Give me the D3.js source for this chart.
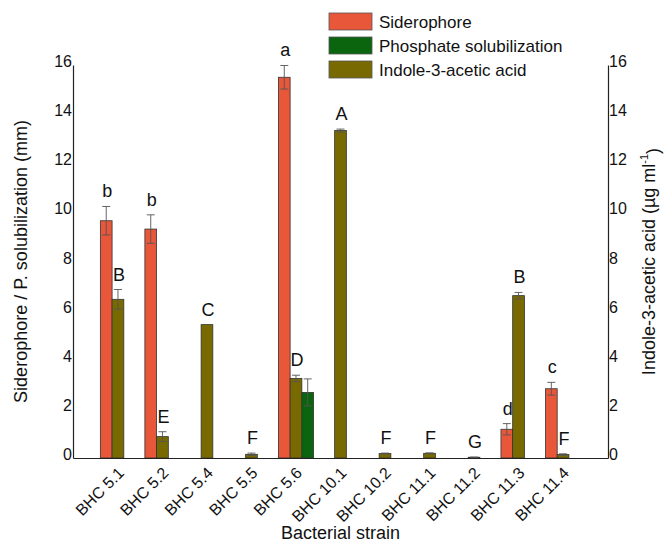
<!DOCTYPE html>
<html>
<head>
<meta charset="utf-8">
<script src="https://cdn.jsdelivr.net/npm/d3@7"></script>
<style>
  body { margin: 0; background: #fff; }
  text { font-family: Arial, "Liberation Sans", sans-serif; fill: #111; }
</style>
</head>
<body>
<div id="chart"></div>
<script>
var strains = ["BHC 5.1", "BHC 5.2", "BHC 5.4", "BHC 5.5", "BHC 5.6", "BHC 10.1", "BHC 10.2", "BHC 11.1", "BHC 11.2", "BHC 11.3", "BHC 11.4"];

var sidero = [9.66, 9.32, 0, 0, 15.5, 0, 0, 0, 0, 1.17, 2.82];
var sideroErr = [0.58, 0.58, 0, 0, 0.48, 0, 0, 0, 0, 0.23, 0.26];
var sideroLetters = ["b", "b", "", "", "a", "", "", "", "", "d", "c"];

var iaa = [6.46, 0.87, 5.43, 0.15, 3.24, 13.33, 0.18, 0.19, 0.03, 6.61, 0.14];
var iaaErr = [0.4, 0.2, 0, 0.05, 0.13, 0.06, 0.02, 0.02, 0.01, 0.13, 0.03];
var iaaLetters = ["B", "E", "C", "F", "D", "A", "F", "F", "G", "B", "F"];

var phos = [0, 0, 0, 0, 2.67, 0, 0, 0, 0, 0, 0];
var phosErr = [0, 0, 0, 0, 0.55, 0, 0, 0, 0, 0, 0];

var seriesNames = ["Siderophore", "Phosphate solubilization", "Indole-3-acetic acid"];
var seriesColors = ["#e8573a", "#0b650f", "#786a00"];

var width = 665, height = 542;
var margin = { left: 73, right: 608, top: 65, bottom: 458 };

var svg = d3.select("#chart")
    .append("svg")
    .attr("width", width)
    .attr("height", height);

var x0 = d3.scaleBand()
    .domain(strains)
    .range([margin.left, margin.right])
    .paddingInner(0.21)
    .paddingOuter(0.615);

// bar order inside a group: siderophore, IAA, phosphate
var x1 = d3.scaleBand()
    .domain(["sid", "iaa", "phos"])
    .range([0, x0.bandwidth()]);

var y = d3.scaleLinear().domain([0, 16]).range([margin.bottom, margin.top]);
var y2 = d3.scaleLinear().domain([0, 16]).range([margin.bottom, margin.top]);

var bars = [];
strains.forEach(function (s, i) {
    bars.push({ strain: s, key: "sid", value: sidero[i], err: sideroErr[i], letter: sideroLetters[i], color: seriesColors[0], scale: y });
    bars.push({ strain: s, key: "iaa", value: iaa[i], err: iaaErr[i], letter: iaaLetters[i], color: seriesColors[2], scale: y2 });
    bars.push({ strain: s, key: "phos", value: phos[i], err: phosErr[i], letter: "", color: seriesColors[1], scale: y });
});
bars = bars.filter(function (d) { return d.value > 0; });

function bx(d) { return x0(d.strain) + x1(d.key); }

svg.selectAll(".bar")
    .data(bars)
    .enter()
    .append("rect")
    .attr("class", "bar")
    .attr("x", bx)
    .attr("y", function (d) { return d.scale(d.value); })
    .attr("width", x1.bandwidth())
    .attr("height", function (d) { return margin.bottom - d.scale(d.value); })
    .style("fill", function (d) { return d.color; })
    .style("stroke", "#333")
    .style("stroke-width", 0.8);

// error bars
var eb = svg.selectAll(".err")
    .data(bars.filter(function (d) { return d.err > 0; }))
    .enter()
    .append("g")
    .attr("class", "err")
    .style("stroke", "#555")
    .style("stroke-width", 0.9);

function cx(d) { return bx(d) + x1.bandwidth() / 2; }

eb.append("line")
    .attr("x1", cx)
    .attr("x2", cx)
    .attr("y1", function (d) { return d.scale(d.value + d.err); })
    .attr("y2", function (d) { return d.scale(d.value - d.err); });
eb.append("line")
    .attr("x1", function (d) { return cx(d) - 4; })
    .attr("x2", function (d) { return cx(d) + 4; })
    .attr("y1", function (d) { return d.scale(d.value + d.err); })
    .attr("y2", function (d) { return d.scale(d.value + d.err); });
eb.append("line")
    .attr("x1", function (d) { return cx(d) - 4; })
    .attr("x2", function (d) { return cx(d) + 4; })
    .attr("y1", function (d) { return d.scale(d.value - d.err); })
    .attr("y2", function (d) { return d.scale(d.value - d.err); });

// significance letters
svg.selectAll(".letter")
    .data(bars.filter(function (d) { return d.letter; }))
    .enter()
    .append("text")
    .attr("class", "letter")
    .attr("x", function (d) { return cx(d) + 1; })
    .attr("y", function (d) { return d.scale(d.value + d.err) - 9; })
    .attr("text-anchor", "middle")
    .style("font-size", "18px")
    .text(function (d) { return d.letter; });

// axes
var yAxis = svg.append("g")
    .attr("transform", "translate(" + margin.left + ",0)")
    .call(d3.axisLeft(y).ticks(8).tickSize(0).tickPadding(1));
var yAxis2 = svg.append("g")
    .attr("transform", "translate(" + margin.right + ",0)")
    .call(d3.axisRight(y2).ticks(8).tickSize(0).tickPadding(1));
var xAxis = svg.append("g")
    .attr("transform", "translate(0," + margin.bottom + ")")
    .call(d3.axisBottom(x0).tickSize(0).tickSizeOuter(0).tickPadding(0));

[yAxis, yAxis2, xAxis].forEach(function (a) {
    a.select(".domain").attr("stroke", "#222").attr("stroke-width", 1.2);
    a.selectAll("text").style("font-size", "16px").attr("fill", "#111");
});
yAxis.selectAll("text").attr("dy", "0.1em");
yAxis2.selectAll("text").attr("dy", "0.1em");

xAxis.selectAll("text")
    .attr("text-anchor", "end")
    .attr("dy", "0.35em")
    .attr("y", 0)
    .attr("x", 0)
    .attr("transform", "translate(3,12) rotate(-45)")
    .style("font-size", "16px");

// axis titles
svg.append("text")
    .attr("transform", "translate(27," + ((margin.top + margin.bottom) / 2) + ") rotate(-90)")
    .attr("text-anchor", "middle")
    .style("font-size", "18px")
    .text("Siderophore / P. solubilization (mm)");

var rt = svg.append("text")
    .attr("transform", "translate(655," + ((margin.top + margin.bottom) / 2) + ") rotate(-90)")
    .attr("text-anchor", "middle")
    .style("font-size", "18px");
rt.append("tspan").text("Indole-3-acetic acid (µg ml");
rt.append("tspan").attr("dy", "-0.6em").style("font-size", "11px").text("-1");
rt.append("tspan").attr("dy", "0.6em").text(")");

svg.append("text")
    .attr("x", (margin.left + margin.right) / 2)
    .attr("y", 539)
    .attr("text-anchor", "middle")
    .style("font-size", "18px")
    .text("Bacterial strain");

// legend
var legend = svg.selectAll(".legend")
    .data(seriesNames)
    .enter()
    .append("g")
    .attr("class", "legend")
    .attr("transform", function (d, i) { return "translate(329," + (13 + i * 24) + ")"; });
legend.append("rect")
    .attr("width", 43)
    .attr("height", 17)
    .style("fill", function (d, i) { return seriesColors[i]; })
    .style("stroke", "#555")
    .style("stroke-width", 0.8);
legend.append("text")
    .attr("x", 50)
    .attr("y", 15)
    .style("font-size", "17px")
    .text(function (d) { return d; });
</script>
</body>
</html>
